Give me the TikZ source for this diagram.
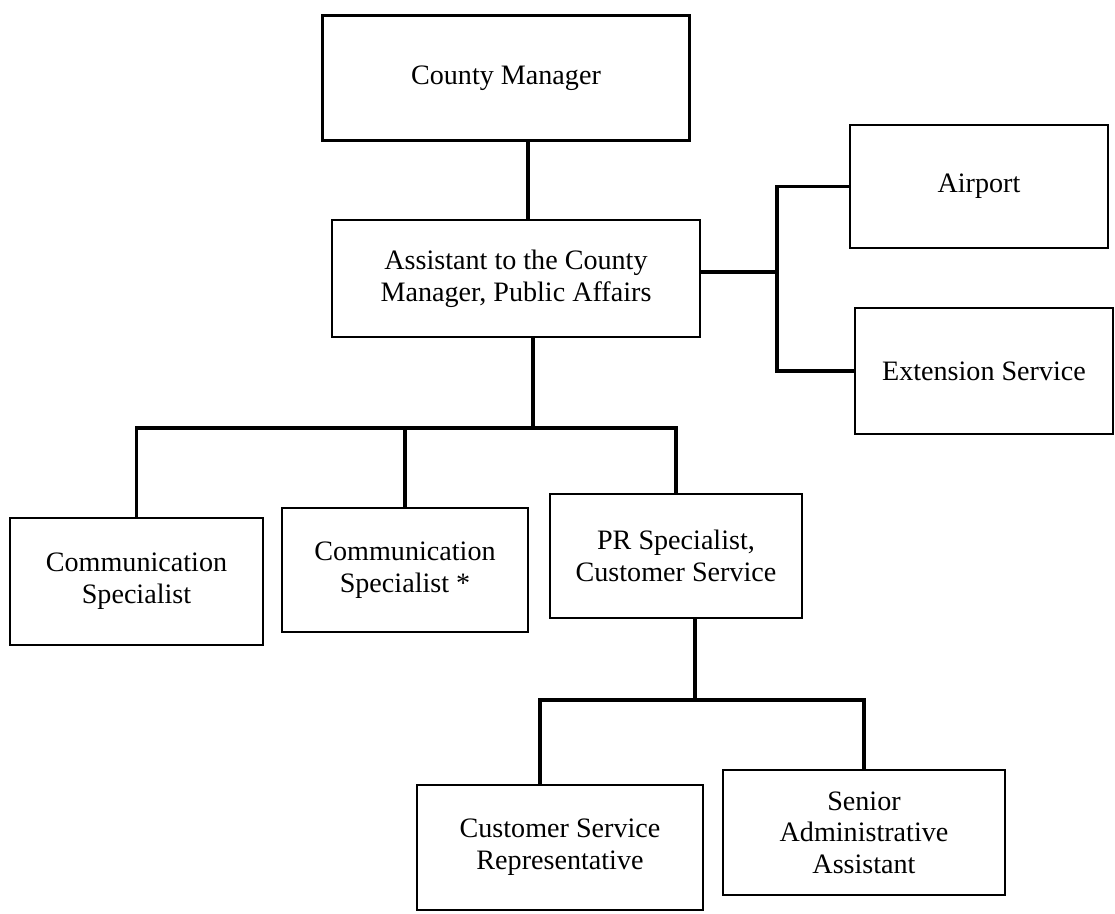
\documentclass[tikz,border=0pt]{standalone}
\usepackage{fontspec}
\setmainfont{Liberation Serif}
\usetikzlibrary{positioning}

\begin{document}
\begin{tikzpicture}[
    post/.style={draw, line width=1.2pt, align=center, inner sep=2pt,
      font=\fontsize{16}{18}\selectfont},
    link/.style={line width=1.9pt}
  ]
          \useasboundingbox (0,0) rectangle (22.3,-18.28);
          \node[post, minimum width=7.34cm, minimum height=2.5cm] (cm) at (10.12,-1.56) {County Manager};
          \node[post, minimum width=7.36cm, minimum height=2.34cm] (asst) at (10.32,-5.57) {Assistant to the County\\Manager, Public Affairs};
          \node[post, minimum width=5.16cm, minimum height=2.46cm] (air) at (19.58,-3.73) {Airport};
          \node[post, minimum width=5.16cm, minimum height=2.52cm] (ext) at (19.68,-7.42) {Extension Service};
          \node[post, minimum width=5.06cm, minimum height=2.54cm] (cs1) at (2.73,-11.63) {Communication\\Specialist};
          \node[post, minimum width=4.92cm, minimum height=2.48cm] (cs2) at (8.10,-11.40) {Communication\\Specialist *};
          \node[post, minimum width=5.04cm, minimum height=2.48cm] (pr) at (13.52,-11.12) {PR Specialist,\\Customer Service};
          \node[post, minimum width=5.72cm, minimum height=2.5cm] (csr) at (11.20,-16.95) {Customer Service\\Representative};
          \node[post, minimum width=5.64cm, minimum height=2.5cm] (saa) at (17.28,-16.65) {Senior\\Administrative\\Assistant};
          % junctions of the connectors
          \coordinate (j0) at (10.56,0);
          \coordinate (ja) at (15.54,-5.44);
          \coordinate (b1) at (10.66,-8.56);
          \coordinate (b2) at (13.9,-14.0);
          \coordinate (b2l) at (10.8,-14.0);
          \draw[link] (cm.south -| j0) -- (asst.north -| j0);
          \draw[link] (asst.east |- ja) -- (ja);
          \draw[link] (air.west) -| (ja) |- (ext.west);

          \draw[link] (asst.south -| b1) -- (b1);
          \draw[link] (cs1.north) |- (b1) -| (pr.north);
          \draw[link] (cs2.north) -- (cs2.north |- b1);

          \draw[link] (pr.south -| b2) -- (b2);
          \draw[link] (csr.north -| b2l) |- (b2) -| (saa.north);
        \end{tikzpicture}
\end{document}
